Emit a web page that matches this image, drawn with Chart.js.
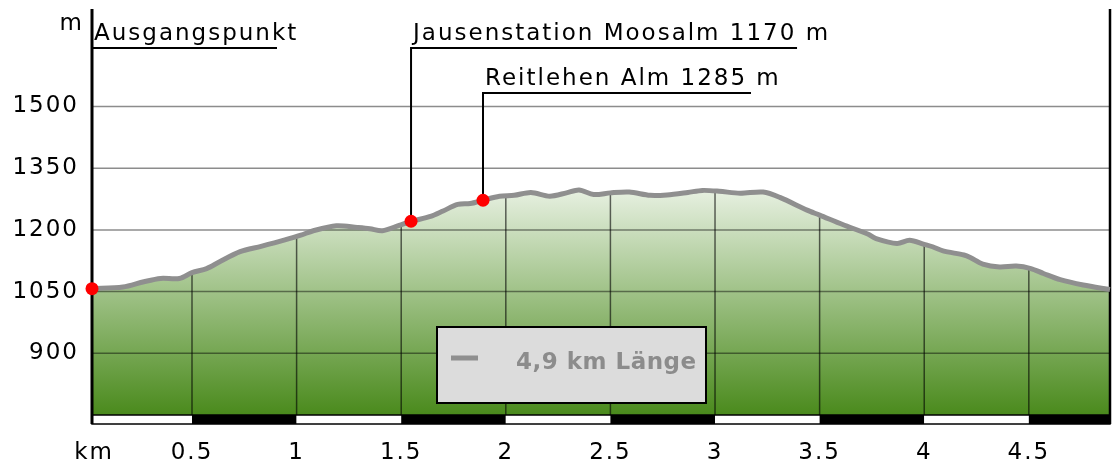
<!DOCTYPE html>
<html lang="de">
<head>
<meta charset="utf-8">
<title>Höhenprofil</title>
<script src="https://cdn.jsdelivr.net/npm/chart.js@4.4.1/dist/chart.umd.min.js"></script>
<style>
  html, body { margin: 0; padding: 0; background: #fff; }
  #wrap { width: 1118px; height: 461px; }
</style>
</head>
<body>
<div id="wrap"><canvas id="profile" width="1118" height="461"></canvas></div>
<script>
// route profile: distance (km) and elevation (m)
const distKm = [0.022, 0.17, 0.27, 0.35, 0.44, 0.50, 0.57, 0.63, 0.73, 0.83, 0.94, 1.02, 1.08, 1.19, 1.29,
    1.35, 1.41, 1.49, 1.55, 1.64, 1.70, 1.77, 1.83, 1.89, 1.97, 2.04, 2.12, 2.21, 2.29, 2.35, 2.42, 2.50,
    2.59, 2.69, 2.77, 2.87, 2.94, 3.02, 3.12, 3.23, 3.31, 3.44, 3.50, 3.61, 3.73, 3.77, 3.87, 3.93, 4.00,
    4.04, 4.09, 4.19, 4.22, 4.28, 4.36, 4.44, 4.51, 4.57, 4.65, 4.76, 4.888];
const elevM = [1057, 1061, 1074, 1082, 1082, 1096, 1106, 1122, 1147, 1160, 1175, 1187, 1198, 1210, 1206,
    1203, 1198, 1211, 1221, 1233, 1246, 1262, 1264, 1272, 1282, 1284, 1291, 1282, 1290, 1297, 1286, 1290,
    1292, 1284, 1285, 1291, 1296, 1294, 1289, 1292, 1279, 1248, 1236, 1213, 1190, 1179, 1167, 1175, 1165,
    1159, 1149, 1139, 1133, 1117, 1110, 1112, 1106, 1094, 1079, 1066, 1055];

// waypoints
const poiKm = [0.022, 1.547, 1.891];
const poiElev = [1057, 1221, 1272];
const poiLabels = ['Ausgangspunkt', 'Jausenstation Moosalm 1170 m', 'Reitlehen Alm 1285 m'];

const xTicks = [0.5, 1, 1.5, 2, 2.5, 3, 3.5, 4, 4.5];
const yTicks = [900, 1050, 1200, 1350, 1500];
const routeLabel = '4,9 km Länge';

// look
const FONT = '"DejaVu Sans", sans-serif';
const LINE_GREY = '#8f8f8f';
const labelRise = [39, 39, 84];      // leader height above plot top (px)
const leaderLen = [185, 386, 268];   // underline length (px)

function drawGrid(chart) {
    const { ctx, chartArea: a, scales: { x, y } } = chart;
    const pts = chart.getDatasetMeta(2).data;
    ctx.save();
    ctx.lineWidth = 1.5;
    ctx.strokeStyle = 'rgba(0,0,0,0.45)';
    yTicks.forEach(v => {
        const py = y.getPixelForValue(v);
        ctx.beginPath();
        ctx.moveTo(a.left, py);
        ctx.lineTo(a.right, py);
        ctx.stroke();
    });

    // vertical lines only under the profile
    ctx.save();
    ctx.beginPath();
    ctx.moveTo(pts[0].x, a.bottom);
    pts.forEach(p => ctx.lineTo(p.x, p.y));
    ctx.lineTo(pts[pts.length - 1].x, a.bottom);
    ctx.closePath();
    ctx.clip();
    ctx.strokeStyle = 'rgba(0,0,0,0.6)';
    xTicks.forEach(v => {
        const px = x.getPixelForValue(v);
        ctx.beginPath();
        ctx.moveTo(px, a.top);
        ctx.lineTo(px, a.bottom);
        ctx.stroke();
    });
    ctx.restore();

    // distance strip under the plot
    const stripH = 9;
    const bounds = [x.min, ...xTicks, x.max];
    for (let i = 0; i < bounds.length - 1; i++) {
        const x0 = x.getPixelForValue(bounds[i]);
        const x1 = x.getPixelForValue(bounds[i + 1]);
        ctx.fillStyle = i % 2 ? '#000' : '#fff';
        ctx.fillRect(x0, a.bottom, x1 - x0, stripH);
    }
    ctx.strokeStyle = '#000';
    ctx.lineWidth = 1.5;
    ctx.strokeRect(a.left, a.bottom, a.right - a.left, stripH);

    // frame: left axis and right edge
    ctx.lineWidth = 3;
    ctx.beginPath();
    ctx.moveTo(a.left, a.top);
    ctx.lineTo(a.left, a.bottom + stripH);
    ctx.stroke();
    ctx.lineWidth = 2.5;
    ctx.beginPath();
    ctx.moveTo(a.right, a.top);
    ctx.lineTo(a.right, a.bottom + stripH);
    ctx.stroke();
    ctx.restore();
}

function drawLabels(chart) {
    const { ctx, chartArea: a, scales: { x, y } } = chart;
    ctx.save();
    ctx.font = '23px ' + FONT;
    ctx.fillStyle = '#000';
    ctx.strokeStyle = '#000';
    ctx.lineWidth = 2;
    ctx.textBaseline = 'alphabetic';
    poiKm.forEach((km, i) => {
        const px = x.getPixelForValue(km);
        const py = y.getPixelForValue(poiElev[i]);
        const ly = a.top + labelRise[i];
        ctx.beginPath();
        ctx.moveTo(px, py);
        ctx.lineTo(px, ly);
        ctx.lineTo(px + leaderLen[i], ly);
        ctx.stroke();
        ctx.fillText(poiLabels[i], px + 2, ly - 8);
    });

    // unit labels
    ctx.textAlign = 'right';
    ctx.fillText('m', a.left - 8, 30);
    ctx.textAlign = 'center';
    ctx.fillText('km', a.left + 2, 459);
    ctx.restore();
}

function drawLegendBox(chart) {
    const { ctx, chartArea: a } = chart;
    const bx = a.left + 345, by = a.top + 318, bw = 269, bh = 76;
    ctx.save();
    ctx.fillStyle = '#dcdcdc';
    ctx.fillRect(bx, by, bw, bh);
    ctx.strokeStyle = '#000';
    ctx.lineWidth = 2;
    ctx.strokeRect(bx, by, bw, bh);
    ctx.strokeStyle = LINE_GREY;
    ctx.lineWidth = 5;
    ctx.beginPath();
    ctx.moveTo(bx + 14, by + 31);
    ctx.lineTo(bx + 41, by + 31);
    ctx.stroke();
    ctx.letterSpacing = '0.5px';
    ctx.font = 'bold 23px ' + FONT;
    ctx.fillStyle = '#8c8c8c';
    ctx.textBaseline = 'alphabetic';
    ctx.fillText(routeLabel, bx + 79, by + 42);
    ctx.restore();
}

const profilePlugin = {
    id: 'profile',
    beforeDraw(chart) {
        chart.ctx.letterSpacing = '2px';
    },
    afterDatasetDraw(chart, args) {
        if (args.index === 2) drawGrid(chart);
        if (args.index === 1) drawLabels(chart);
    },
    afterDraw(chart) {
        drawLegendBox(chart);
    }
};

const profilePoints = distKm.map((d, i) => ({ x: d, y: elevM[i] }));
const poiPoints = poiKm.map((d, i) => ({ x: d, y: poiElev[i] }));

function greenFill(context) {
    const { ctx, chartArea } = context.chart;
    if (!chartArea) return '#8fbc6e';
    const g = ctx.createLinearGradient(0, chartArea.top, 0, chartArea.bottom);
    g.addColorStop(0, '#ffffff');
    g.addColorStop(0.42, '#eef5ea');
    g.addColorStop(1, '#4a8a1c');
    return g;
}

new Chart(document.getElementById('profile'), {
    type: 'line',
    data: {
        datasets: [{
            label: 'Wegpunkte',
            data: poiPoints,
            showLine: false,
            pointRadius: 6.5,
            pointBackgroundColor: '#ff0000',
            pointBorderWidth: 0,
            clip: false
        }, {
            label: 'Profil',
            data: profilePoints,
            borderColor: LINE_GREY,
            borderWidth: 5,
            tension: 0.3,
            pointRadius: 0,
            fill: false,
            clip: false
        }, {
            label: 'Fläche',
            data: profilePoints,
            borderWidth: 0,
            tension: 0.3,
            pointRadius: 0,
            fill: 'start',
            backgroundColor: greenFill
        }]
    },
    options: {
        responsive: false,
        animation: false,
        devicePixelRatio: 1,
        layout: { padding: { top: 9, right: 8, left: 0, bottom: 0 } },
        plugins: { legend: { display: false }, tooltip: { enabled: false } },
        scales: {
            x: {
                type: 'linear',
                min: 0.022,
                max: 4.888,
                grid: { display: false },
                border: { display: false },
                afterBuildTicks: s => { s.ticks = xTicks.map(v => ({ value: v })); },
                afterFit: s => { s.height = 46; s.paddingLeft = 0; s.paddingRight = 0; },
                ticks: {
                    color: '#000',
                    font: { family: FONT, size: 23 },
                    padding: 16,
                    maxRotation: 0,
                    callback: v => String(v)
                }
            },
            y: {
                min: 750,
                max: 1737,
                grid: { display: false },
                border: { display: false },
                afterBuildTicks: s => { s.ticks = yTicks.map(v => ({ value: v })); },
                afterFit: s => { s.width = 92; s.paddingTop = 0; s.paddingBottom = 0; },
                ticks: {
                    color: '#000',
                    font: { family: FONT, size: 23 },
                    padding: 5,
                    callback: v => String(v)
                }
            }
        }
    },
    plugins: [profilePlugin]
});
</script>
</body>
</html>
